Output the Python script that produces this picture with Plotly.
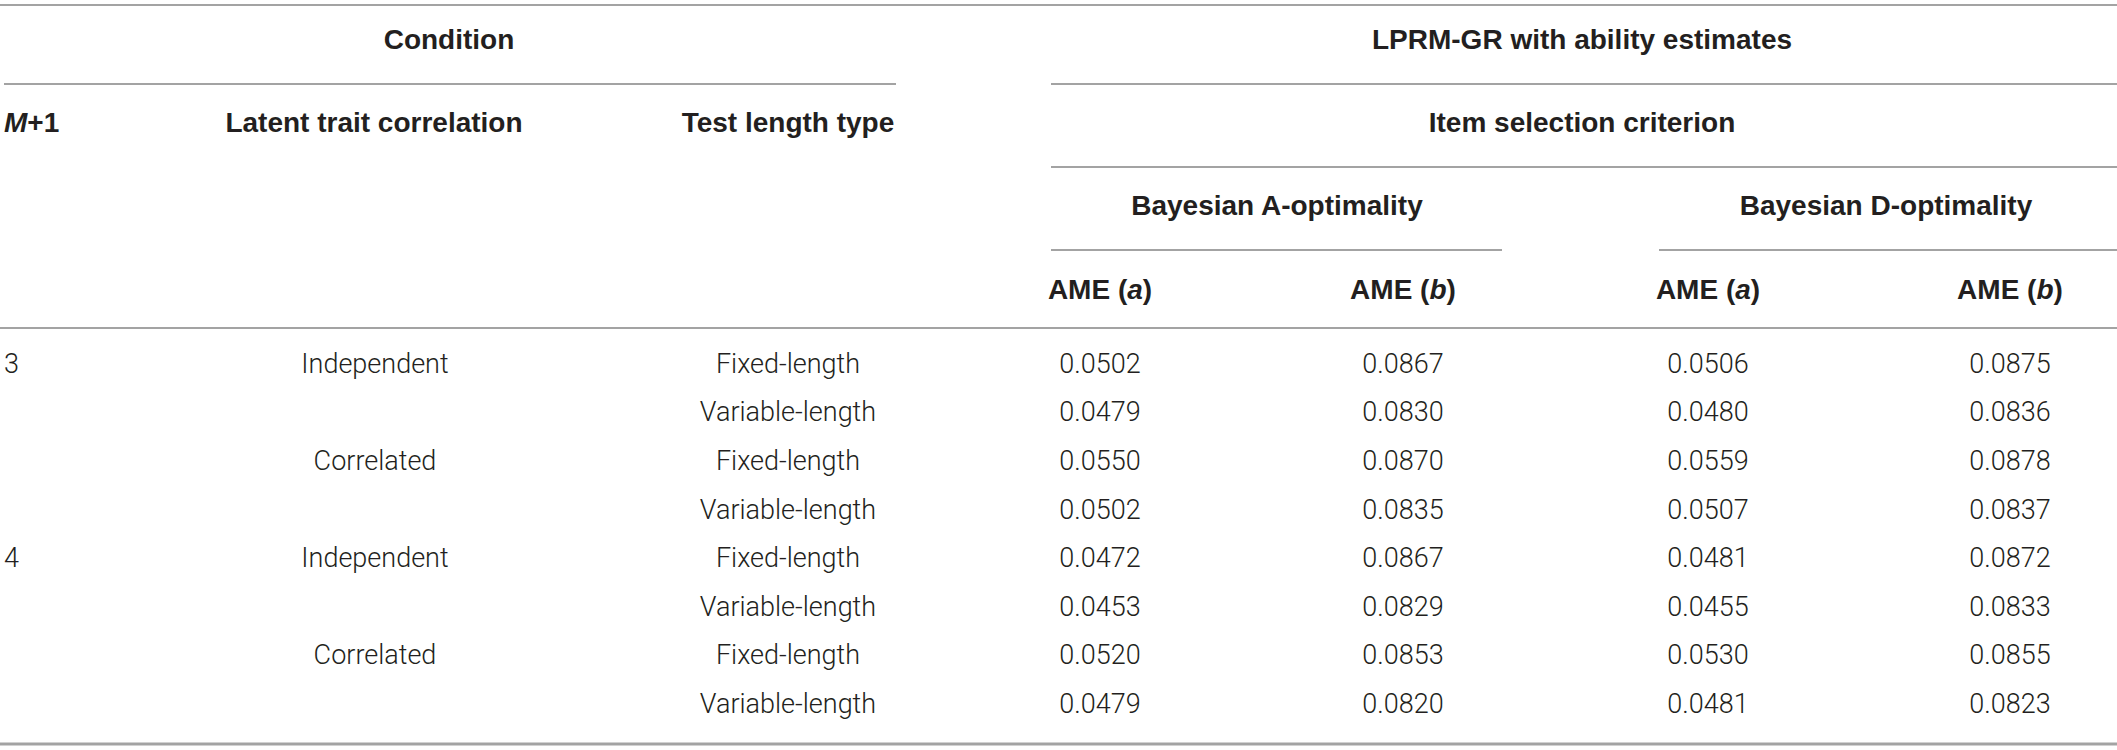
import plotly.graph_objects as go

# ---- data ----
m_plus_1 = ["3", "", "", "", "4", "", "", ""]
trait_corr = ["Independent", "", "Correlated", "", "Independent", "", "Correlated", ""]
test_length = ["Fixed-length", "Variable-length"] * 4
a_opt_ame_a = ["0.0502", "0.0479", "0.0550", "0.0502", "0.0472", "0.0453", "0.0520", "0.0479"]
a_opt_ame_b = ["0.0867", "0.0830", "0.0870", "0.0835", "0.0867", "0.0829", "0.0853", "0.0820"]
d_opt_ame_a = ["0.0506", "0.0480", "0.0559", "0.0507", "0.0481", "0.0455", "0.0530", "0.0481"]
d_opt_ame_b = ["0.0875", "0.0836", "0.0878", "0.0837", "0.0872", "0.0833", "0.0855", "0.0823"]

W, H = 2117, 750
TXT = "#231f20"
LINE = "#a3a3a3"
HEAD_FONT = "Liberation Sans"
BODY_FONT = "Roboto"
BODY = 27
HEAD = 28

row_y = [366 + 48.6 * k for k in range(8)]

fig = go.Figure()

def text_trace(xs, ys, texts, pos="middle center", head=False):
    if head:
        texts = ["<b>%s</b>" % t if t else "" for t in texts]
        font = dict(family=HEAD_FONT, size=HEAD, color=TXT)
    else:
        font = dict(family=BODY_FONT, size=BODY, color=TXT, weight=300)
    fig.add_trace(go.Scatter(
        x=xs, y=ys, text=texts, mode="text", textposition=pos,
        textfont=font, hoverinfo="skip", showlegend=False))

# header
text_trace([449, 1582], [42, 42], ["Condition", "LPRM-GR with ability estimates"], head=True)
text_trace([4], [125], ["<i>M</i>+1"], pos="middle right", head=True)
text_trace([374, 788, 1582], [125, 125, 125],
           ["Latent trait correlation", "Test length type", "Item selection criterion"], head=True)
text_trace([1277, 1886], [208, 208], ["Bayesian A-optimality", "Bayesian D-optimality"], head=True)
text_trace([1100, 1403, 1708, 2010], [292] * 4,
           ["AME (<i>a</i>)", "AME (<i>b</i>)", "AME (<i>a</i>)", "AME (<i>b</i>)"], head=True)

# body
text_trace([4] * 8, row_y, m_plus_1, pos="middle right")
text_trace([375] * 8, row_y, trait_corr)
text_trace([788] * 8, row_y, test_length)
text_trace([1100] * 8, row_y, a_opt_ame_a)
text_trace([1403] * 8, row_y, a_opt_ame_b)
text_trace([1708] * 8, row_y, d_opt_ame_a)
text_trace([2010] * 8, row_y, d_opt_ame_b)

# rules
rules = [
    (0, W, 5, 2),
    (4, 896, 84, 2), (1051, W, 84, 2),
    (1051, W, 167, 2),
    (1051, 1502, 250, 2), (1659, W, 250, 2),
    (0, W, 328, 2),
    (0, W, 744, 3),
]
for x0, x1, y, w in rules:
    fig.add_shape(type="line", x0=x0, x1=x1, y0=y, y1=y, xref="x", yref="y",
                  line=dict(color=LINE, width=w))

fig.update_xaxes(range=[0, W], visible=False, fixedrange=True)
fig.update_yaxes(range=[H, 0], visible=False, fixedrange=True)
fig.update_layout(width=W, height=H, margin=dict(l=0, r=0, t=0, b=0),
                  paper_bgcolor="white", plot_bgcolor="white")

fig.write_html("out.html", config={"displayModeBar": False},
               post_script="document.body.style.margin='0px';document.body.style.overflow='hidden';")
